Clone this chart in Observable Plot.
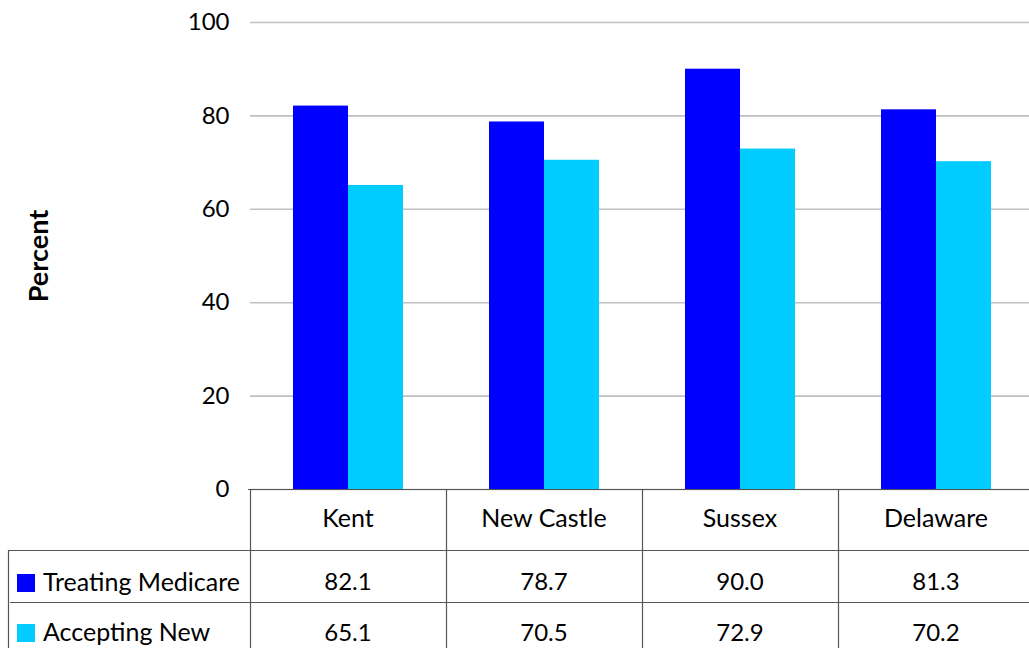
<!DOCTYPE html>
<html><head><meta charset="utf-8">
<script src="https://cdn.jsdelivr.net/npm/d3@7"></script>
<script src="https://cdn.jsdelivr.net/npm/@observablehq/plot@0.6"></script>
<style>html,body{margin:0;padding:0;overflow:hidden;background:#fff;} #chart svg{max-width:none !important;height:648px !important;}</style>
</head><body><div id="chart"></div>
<script>
const counties = ["Kent", "New Castle", "Sussex", "Delaware"];
const seriesNames = ["Treating Medicare", "Accepting New"];
const treating = [82.1, 78.7, 90.0, 81.3];
const accepting = [65.1, 70.5, 72.9, 70.2];
const yTicks = [0, 20, 40, 60, 80, 100];
const seriesColors = ["#0000ff", "#00ccff"];
const yLabel = "Percent";

const seriesValues = [treating, accepting];
const data = counties.flatMap((c, i) => seriesNames.map((s, j) => ({county: c, series: s, value: seriesValues[j][i]})));

const font = "Lato, 'Open Sans', sans-serif";

const plot = Plot.plot({
  width: 1035, height: 648,
  marginLeft: 248, marginRight: 0, marginTop: 22, marginBottom: 159,
  style: {fontFamily: font, fontSize: "24px", color: "#000", background: "#fff", maxWidth: "none"},
  fx: {domain: counties, padding: 0, axis: null},
  x: {domain: seriesNames, paddingInner: 0, paddingOuter: 0.757, axis: null},
  y: {domain: [0, 100], axis: null},
  color: {domain: seriesNames, range: seriesColors},
  marks: [
    Plot.gridY(yTicks, {stroke: "#c0c0c0", strokeOpacity: 1, strokeWidth: 1.6}),
    Plot.axisY(yTicks, {tickSize: 0, tickPadding: 21, fontSize: 24, label: null, facetAnchor: "left"}),
    Plot.barY(data, {fx: "county", x: "series", y: "value", fill: "series"}),
    Plot.text([yLabel], {text: d => d, frameAnchor: "left", textAnchor: "middle", dx: -211, rotate: -90, fontWeight: "bold", fontSize: 27, facetAnchor: "left"})
  ]
});
document.getElementById("chart").appendChild(plot);

// data table below the chart, positioned with the plot's own fx and color scales
const fxScale = plot.scale("fx");
const colorScale = plot.scale("color");
const xLeft = fxScale.range[0], xRight = fxScale.range[1];
const svg = d3.select(plot);
const g = svg.append("g").attr("stroke", "#555").attr("stroke-width", 1.2);
const yTop = 489.5, yRow1 = 550.5, yRow2 = 602.5, yBottom = 660;
g.append("line").attr("x1", xLeft).attr("x2", xRight).attr("y1", yTop).attr("y2", yTop);
g.append("line").attr("x1", 8).attr("x2", xRight).attr("y1", yRow1).attr("y2", yRow1);
g.append("line").attr("x1", 10).attr("x2", xRight).attr("y1", yRow2).attr("y2", yRow2);
g.append("line").attr("x1", 8.5).attr("x2", 8.5).attr("y1", yRow1).attr("y2", yBottom);
counties.forEach(c => {
  const xs = Math.round(fxScale.apply(c)) + 0.5;
  g.append("line").attr("x1", xs).attr("x2", xs).attr("y1", yTop).attr("y2", yBottom);
});
const t = svg.append("g").attr("font-family", font).attr("fill", "#000").attr("text-anchor", "middle");
counties.forEach((c, i) => {
  const cx = fxScale.apply(c) + fxScale.bandwidth / 2;
  t.append("text").attr("x", cx).attr("y", 527).attr("font-size", 25).text(c);
  seriesValues.forEach((vals, j) => {
    t.append("text").attr("x", cx).attr("y", j === 0 ? 590 : 641).attr("font-size", 24).text(vals[i].toFixed(1));
  });
});
seriesNames.forEach((s, j) => {
  const yb = j === 0 ? 591 : 641;
  svg.append("rect").attr("x", 17).attr("y", yb - 17).attr("width", 18).attr("height", 18).attr("fill", colorScale.apply(s));
  svg.append("text").attr("x", 43).attr("y", yb).attr("font-family", font).attr("font-size", 25)
    .attr("text-anchor", "start").attr("fill", "#000").text(s);
});
</script></body></html>
